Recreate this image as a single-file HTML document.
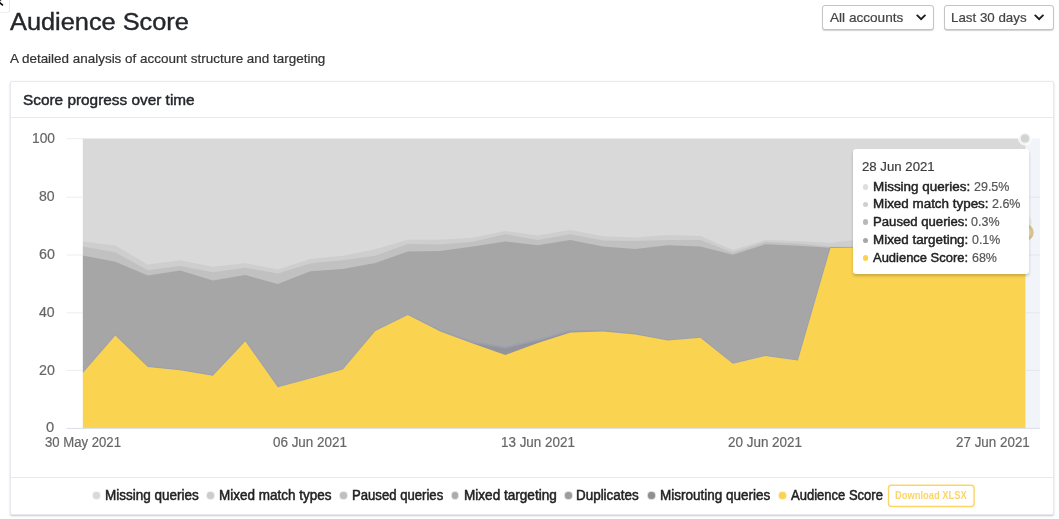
<!DOCTYPE html>
<html lang="en">
<head>
<meta charset="utf-8">
<title>Audience Score</title>
<style>
*{box-sizing:border-box;margin:0;padding:0}
html,body{width:1059px;height:519px;overflow:hidden;background:#fff}
body{position:relative;font-family:"Liberation Sans",sans-serif;color:#333}
.abs{position:absolute;white-space:nowrap;line-height:1}
.t{position:absolute;white-space:nowrap;line-height:1;transform-origin:0 0}
.corner{position:absolute;left:-1px;top:-1px;width:11px;height:13.6px;border:1px solid #e6e8ee;border-bottom-color:#eef0f5;border-radius:0 0 3px 0;background:#fff;overflow:hidden}
h1{position:absolute;left:9px;top:8px;font-weight:400;font-size:24.4px;line-height:28px;color:#24272b;-webkit-text-stroke:0.4px #24272b;white-space:nowrap;transform-origin:0 0}
.sub{position:absolute;left:10px;top:51px;font-size:13px;line-height:15px;color:#333;-webkit-text-stroke:0.2px #333;white-space:nowrap;transform-origin:0 0}
.sel{position:absolute;top:5px;height:25px;border:1px solid #c4c4c4;border-radius:3px;background:#fff;box-shadow:0 1px 1px rgba(0,0,0,.18)}
.sel span{position:absolute;left:7px;top:3.8px;font-size:13px;line-height:15px;color:#444;-webkit-text-stroke:0.2px #444;white-space:nowrap;transform-origin:0 0}
.sel svg{position:absolute;top:8.1px}
.card{position:absolute;left:10px;top:81px;width:1044px;height:434px;border:1px solid #e8eaf0;border-radius:2px;background:#fff;box-shadow:0 1px 2px rgba(0,0,0,.22)}
.card-h{position:absolute;left:0;top:0;right:0;height:36px;border-bottom:1px solid #e6e9f1}
.card-h span{position:absolute;left:13px;top:9px;font-size:14.8px;line-height:18px;color:#24272b;-webkit-text-stroke:0.45px #24272b;white-space:nowrap;transform-origin:0 0}
.card-f{position:absolute;left:0;right:0;top:395px;bottom:0;border-top:1px solid #e6e9f1}
svg.chart{position:absolute;left:0;top:0;width:1059px;height:519px}
svg.chart text{font-family:"Liberation Sans",sans-serif}
.tip{position:absolute;left:853px;top:149px;width:175.6px;height:124.5px;background:#fff;border-radius:3px;box-shadow:0 2px 3px rgba(0,0,0,.2)}
.tip .ttl{position:absolute;left:9px;top:9.5px;font-size:13px;line-height:15px;color:#3d3d3d;-webkit-text-stroke:0.2px #3d3d3d;white-space:nowrap;transform-origin:0 0}
.tip .row{position:absolute;left:9px;font-size:13px;line-height:15px;color:#555;-webkit-text-stroke:0.2px #555;white-space:nowrap}
.tip .row i{position:absolute;left:1px;top:5.6px;width:5.2px;height:5.2px;border-radius:50%}
.tip .row span{position:absolute;left:12px;top:0;transform-origin:0 0;white-space:nowrap}
.tip .row .b{color:#222;-webkit-text-stroke:0.45px #222}
.ax{position:absolute;font-size:14px;line-height:15px;color:#666;-webkit-text-stroke:0.2px #666;white-space:nowrap;transform-origin:0 0}
.lg{position:absolute;top:488px;font-size:14px;line-height:15px;font-weight:400;color:#222;-webkit-text-stroke:0.5px #222;white-space:nowrap;transform-origin:0 0}
.dot{position:absolute;top:492.2px;width:6.6px;height:6.6px;border-radius:50%}
.btn{position:absolute;left:888px;top:484px;width:87px;height:23px;border:1px solid transparent;border-radius:3px}
.btn span{position:absolute;left:7px;top:4.6px;font-size:10px;line-height:11px;font-weight:700;color:#fcd669;white-space:nowrap;transform-origin:0 0}
</style>
</head>
<body>
<div class="corner"><svg width="11" height="13" viewBox="0 0 11 13" style="position:absolute;left:0;top:0"><rect x="0" y="0" width="1.2" height="1.3" fill="#4a4a4a"/><path d="M-0.4 2.6 L2.4 4.9" stroke="#050505" stroke-width="1.7" stroke-linecap="round" fill="none"/></svg></div>
<h1 id="title" style="left:9.69px;transform:scaleX(1.0387)">Audience Score</h1>
<div class="sub" id="sub" style="left:10.03px;transform:scaleX(1.0340)">A detailed analysis of account structure and targeting</div>

<div class="sel" style="left:822px;width:112px"><span id="s1" style="left:7.13px;transform:scaleX(1.0456)">All accounts</span>
<svg style="left:93.1px" width="12" height="8" viewBox="0 0 12 8"><path d="M1.3 1.4 L5.1 5.1 L8.9 1.4" stroke="#1c1c1c" stroke-width="1.9" fill="none" stroke-linecap="round" stroke-linejoin="miter"/></svg></div>
<div class="sel" style="left:944px;width:110px"><span id="s2" style="left:5.90px;transform:scaleX(1.0252)">Last 30 days</span>
<svg style="left:89px" width="12" height="8" viewBox="0 0 12 8"><path d="M1.3 1.4 L5.1 5.1 L8.9 1.4" stroke="#1c1c1c" stroke-width="1.9" fill="none" stroke-linecap="round" stroke-linejoin="miter"/></svg></div>

<div class="card">
  <div class="card-h"><span id="ch" style="left:12.45px;transform:scaleX(1.0384)">Score progress over time</span></div>
  <div class="card-f"></div>
</div>

<svg class="chart" viewBox="0 0 1059 519">
<path d="M79.8,431.5 L79.8,138.5 L82.8,138.5 L115.3,138.5 L147.8,138.5 L180.3,138.5 L212.8,138.5 L245.3,138.5 L277.8,138.5 L310.3,138.5 L342.8,138.5 L375.3,138.5 L407.8,138.5 L440.3,138.5 L472.8,138.5 L505.3,138.5 L537.8,138.5 L570.4,138.5 L602.9,138.5 L635.4,138.5 L667.9,138.5 L700.4,138.5 L732.9,138.5 L765.4,138.5 L797.9,138.5 L830.4,138.5 L862.9,138.5 L895.4,138.5 L927.9,138.5 L960.4,138.5 L992.9,138.5 L1025.4,138.5 L1028.4,138.5 L1028.4,431.5 Z" fill="#d9d9d9"/>
<path d="M79.8,431.5 L79.8,241.4 L82.8,241.4 L115.3,245.5 L147.8,264.6 L180.3,260.3 L212.8,266.7 L245.3,263.2 L277.8,269.6 L310.3,259.1 L342.8,255.7 L375.3,249.3 L407.8,239.7 L440.3,239.7 L472.8,237.7 L505.3,231.0 L537.8,235.4 L570.4,230.1 L602.9,236.2 L635.4,237.4 L667.9,235.1 L700.4,235.9 L732.9,249.9 L765.4,240.0 L797.9,240.9 L830.4,242.9 L862.9,238.8 L895.4,235.7 L927.9,232.5 L960.4,229.0 L992.9,225.8 L1025.4,222.6 L1028.4,222.6 L1028.4,431.5 Z" fill="#cecece"/>
<path d="M79.8,431.5 L79.8,246.4 L82.8,246.4 L115.3,252.2 L147.8,270.2 L180.3,266.1 L212.8,272.2 L245.3,267.8 L277.8,273.6 L310.3,263.5 L342.8,260.3 L375.3,255.7 L407.8,244.1 L440.3,244.6 L472.8,241.7 L505.3,234.2 L537.8,240.0 L570.4,234.2 L602.9,240.6 L635.4,240.9 L667.9,240.0 L700.4,240.0 L732.9,252.5 L765.4,242.0 L797.9,243.5 L830.4,246.7 L862.9,246.4 L895.4,243.2 L927.9,240.0 L960.4,236.5 L992.9,233.3 L1025.4,230.1 L1028.4,230.1 L1028.4,431.5 Z" fill="#c1c1c1"/>
<path d="M79.8,431.5 L79.8,255.4 L82.8,255.4 L115.3,261.8 L147.8,275.4 L180.3,270.4 L212.8,280.6 L245.3,275.1 L277.8,284.1 L310.3,271.3 L342.8,269.0 L375.3,262.9 L407.8,251.6 L440.3,251.0 L472.8,246.4 L505.3,241.4 L537.8,245.2 L570.4,240.0 L602.9,246.4 L635.4,249.0 L667.9,245.2 L700.4,246.4 L732.9,254.8 L765.4,244.3 L797.9,245.8 L830.4,247.8 L862.9,247.2 L895.4,244.1 L927.9,240.9 L960.4,237.4 L992.9,234.2 L1025.4,231.0 L1028.4,231.0 L1028.4,431.5 Z" fill="#a6a6a6"/>
<path d="M79.8,431.5 L79.8,373.1 L82.8,373.1 L115.3,335.4 L147.8,367.0 L180.3,370.2 L212.8,375.7 L245.3,341.2 L277.8,387.3 L310.3,378.6 L342.8,369.6 L375.3,331.1 L407.8,315.1 L440.3,330.8 L472.8,342.1 L505.3,347.3 L537.8,340.1 L570.4,330.8 L602.9,330.8 L635.4,334.2 L667.9,340.6 L700.4,337.7 L732.9,363.8 L765.4,356.0 L797.9,360.6 L830.4,248.1 L862.9,247.5 L895.4,244.3 L927.9,241.2 L960.4,237.7 L992.9,234.5 L1025.4,231.3 L1028.4,231.3 L1028.4,431.5 Z" fill="#93939a"/>
<polyline points="82.8,373.1 115.3,335.4 147.8,367.0 180.3,370.2 212.8,375.7 245.3,341.2 277.8,387.3 310.3,378.6 342.8,369.6 375.3,331.1 407.8,315.1 440.3,330.8 472.8,342.1 505.3,347.3 537.8,340.1 570.4,330.8 602.9,330.8 635.4,334.2 667.9,340.6 700.4,337.7 732.9,363.8 765.4,356.0 797.9,360.6 830.4,248.1 862.9,247.5 895.4,244.3 927.9,241.2 960.4,237.7 992.9,234.5 1025.4,231.3" fill="none" stroke="#9b9fae" stroke-width="1.7" stroke-linejoin="round"/>
<path d="M79.8,431.5 L79.8,373.1 L82.8,373.1 L115.3,335.4 L147.8,367.0 L180.3,370.2 L212.8,375.7 L245.3,341.2 L277.8,387.3 L310.3,378.6 L342.8,369.6 L375.3,331.1 L407.8,315.1 L440.3,331.4 L472.8,343.5 L505.3,355.1 L537.8,342.9 L570.4,332.5 L602.9,331.6 L635.4,334.5 L667.9,340.6 L700.4,337.7 L732.9,363.8 L765.4,356.0 L797.9,360.6 L830.4,248.1 L862.9,247.5 L895.4,244.3 L927.9,241.2 L960.4,237.7 L992.9,234.5 L1025.4,231.3 L1028.4,231.3 L1028.4,431.5 Z" fill="#fad350"/>
<rect x="60" y="130" width="22.8" height="305" fill="#fff"/>
<rect x="1025.4" y="130" width="20" height="8.5" fill="#fff"/>
<rect x="1025.4" y="138.5" width="14.6" height="294.0" fill="#f1f4f9"/>
<rect x="60" y="428" width="990" height="8" fill="#fff"/>
<line x1="1025" x2="1040" y1="370.4" y2="370.4" stroke="#e4e7ee" stroke-width="1"/><line x1="1025" x2="1040" y1="312.8" y2="312.8" stroke="#e4e7ee" stroke-width="1"/><line x1="1025" x2="1040" y1="255.0" y2="255.0" stroke="#e4e7ee" stroke-width="1"/><line x1="1025" x2="1040" y1="197.2" y2="197.2" stroke="#e4e7ee" stroke-width="1"/>
<line x1="66.5" x2="83" y1="370.4" y2="370.4" stroke="#ededed" stroke-width="1"/><line x1="66.5" x2="83" y1="312.8" y2="312.8" stroke="#ededed" stroke-width="1"/><line x1="66.5" x2="83" y1="255.0" y2="255.0" stroke="#ededed" stroke-width="1"/><line x1="66.5" x2="83" y1="197.2" y2="197.2" stroke="#ededed" stroke-width="1"/><line x1="66.5" x2="83" y1="138.7" y2="138.7" stroke="#ededed" stroke-width="1"/>
<line x1="66.5" x2="1040" y1="428.4" y2="428.4" stroke="#d9deea" stroke-width="1"/>
<rect x="888.5" y="485.3" width="85.6" height="21.2" rx="3" fill="#fff" stroke="#fbd566" stroke-width="1.4"/>
<circle cx="1025" cy="138.5" r="5.6" fill="#d3d3d3" stroke="#fff" stroke-width="3" stroke-opacity=".7"/>
<circle cx="1025" cy="222.5" r="7" fill="#e3e3e3" fill-opacity=".6"/>
<circle cx="1025" cy="232.4" r="7.2" fill="#eae0b8" stroke="#d2c48c" stroke-width="3"/>
</svg>
<span class="ax" id="y100" style="left:31.79px;top:131.15px;transform:scaleX(0.9828)">100</span>
<span class="ax" id="y80" style="left:39.00px;top:188.95px;transform:scaleX(1.0035)">80</span>
<span class="ax" id="y60" style="left:38.67px;top:247.15px;transform:scaleX(1.0177)">60</span>
<span class="ax" id="y40" style="left:38.57px;top:304.85px;transform:scaleX(1.0079)">40</span>
<span class="ax" id="y20" style="left:38.86px;top:362.95px;transform:scaleX(1.0165)">20</span>
<span class="ax" id="y0" style="left:46.38px;top:420.25px;transform:scaleX(1.0496)">0</span>
<span class="ax" id="x1" style="left:44.91px;top:434.95px;transform:scaleX(0.9383)">30 May 2021</span>
<span class="ax" id="x2" style="left:273.13px;top:434.95px;transform:scaleX(0.9585)">06 Jun 2021</span>
<span class="ax" id="x3" style="left:500.61px;top:434.95px;transform:scaleX(0.9585)">13 Jun 2021</span>
<span class="ax" id="x4" style="left:727.79px;top:434.95px;transform:scaleX(0.9607)">20 Jun 2021</span>
<span class="ax" id="x5" style="left:955.79px;top:434.95px;transform:scaleX(0.9575)">27 Jun 2021</span>

<div class="tip">
  <div class="ttl" id="tt" style="left:8.57px;transform:scaleX(1.0161)">28 Jun 2021</div>
  <div class="row" style="top:29.8px"><i style="background:#dedede"></i><span class="b" id="r1b" style="left:10.78px;transform:scaleX(1.0339)">Missing queries: </span><span class="v" id="r1v" style="left:111.64px;transform:scaleX(0.9601)">29.5%</span></div>
  <div class="row" style="top:47.3px"><i style="background:#cfcfcf"></i><span class="b" id="r2b" style="left:10.78px;transform:scaleX(1.0319)">Mixed match types: </span><span class="v" id="r2v" style="left:130.02px;transform:scaleX(0.9588)">2.6%</span></div>
  <div class="row" style="top:64.8px"><i style="background:#b8b8b8"></i><span class="b" id="r3b" style="left:10.86px;transform:scaleX(1.0110)">Paused queries: </span><span class="v" id="r3v" style="left:109.25px;transform:scaleX(0.9624)">0.3%</span></div>
  <div class="row" style="top:83.1px"><i style="background:#a6a6a6"></i><span class="b" id="r4b" style="left:10.78px;transform:scaleX(1.0300)">Mixed targeting: </span><span class="v" id="r4v" style="left:109.76px;transform:scaleX(0.9532)">0.1%</span></div>
  <div class="row" style="top:100.8px"><i style="background:#fbd250"></i><span class="b" id="r5b" style="left:10.78px;transform:scaleX(0.9965)">Audience Score: </span><span class="v" id="r5v" style="left:109.81px;transform:scaleX(0.9588)">68%</span></div>
</div>

<i class="dot" style="left:93.1px;background:#d9d9d9;box-shadow:0 0 0 1px #d9d9d955"></i><span class="lg" id="l1" style="left:104.86px;transform:scaleX(0.9625)">Missing queries</span>
<i class="dot" style="left:207.3px;background:#cccccc;box-shadow:0 0 0 1px #cccccc55"></i><span class="lg" id="l2" style="left:218.94px;transform:scaleX(0.9628)">Mixed match types</span>
<i class="dot" style="left:340.1px;background:#bfbfbf;box-shadow:0 0 0 1px #bfbfbf55"></i><span class="lg" id="l3" style="left:352.00px;transform:scaleX(0.9377)">Paused queries</span>
<i class="dot" style="left:451.9px;background:#ababab;box-shadow:0 0 0 1px #ababab55"></i><span class="lg" id="l4" style="left:463.74px;transform:scaleX(0.9693)">Mixed targeting</span>
<i class="dot" style="left:565.2px;background:#9c9c9c;box-shadow:0 0 0 1px #9c9c9c55"></i><span class="lg" id="l5" style="left:576.45px;transform:scaleX(0.9589)">Duplicates</span>
<i class="dot" style="left:648.1px;background:#8f8f8f;box-shadow:0 0 0 1px #8f8f8f55"></i><span class="lg" id="l6" style="left:659.86px;transform:scaleX(0.9639)">Misrouting queries</span>
<i class="dot" style="left:779.4px;background:#fad350;box-shadow:0 0 0 1px #fad35055"></i><span class="lg" id="l7" style="left:791.14px;transform:scaleX(0.9299)">Audience Score</span>
<div class="btn"><span id="bt" style="left:6.18px;transform:scaleX(0.9344)">Download XLSX</span></div>
</body>
</html>
